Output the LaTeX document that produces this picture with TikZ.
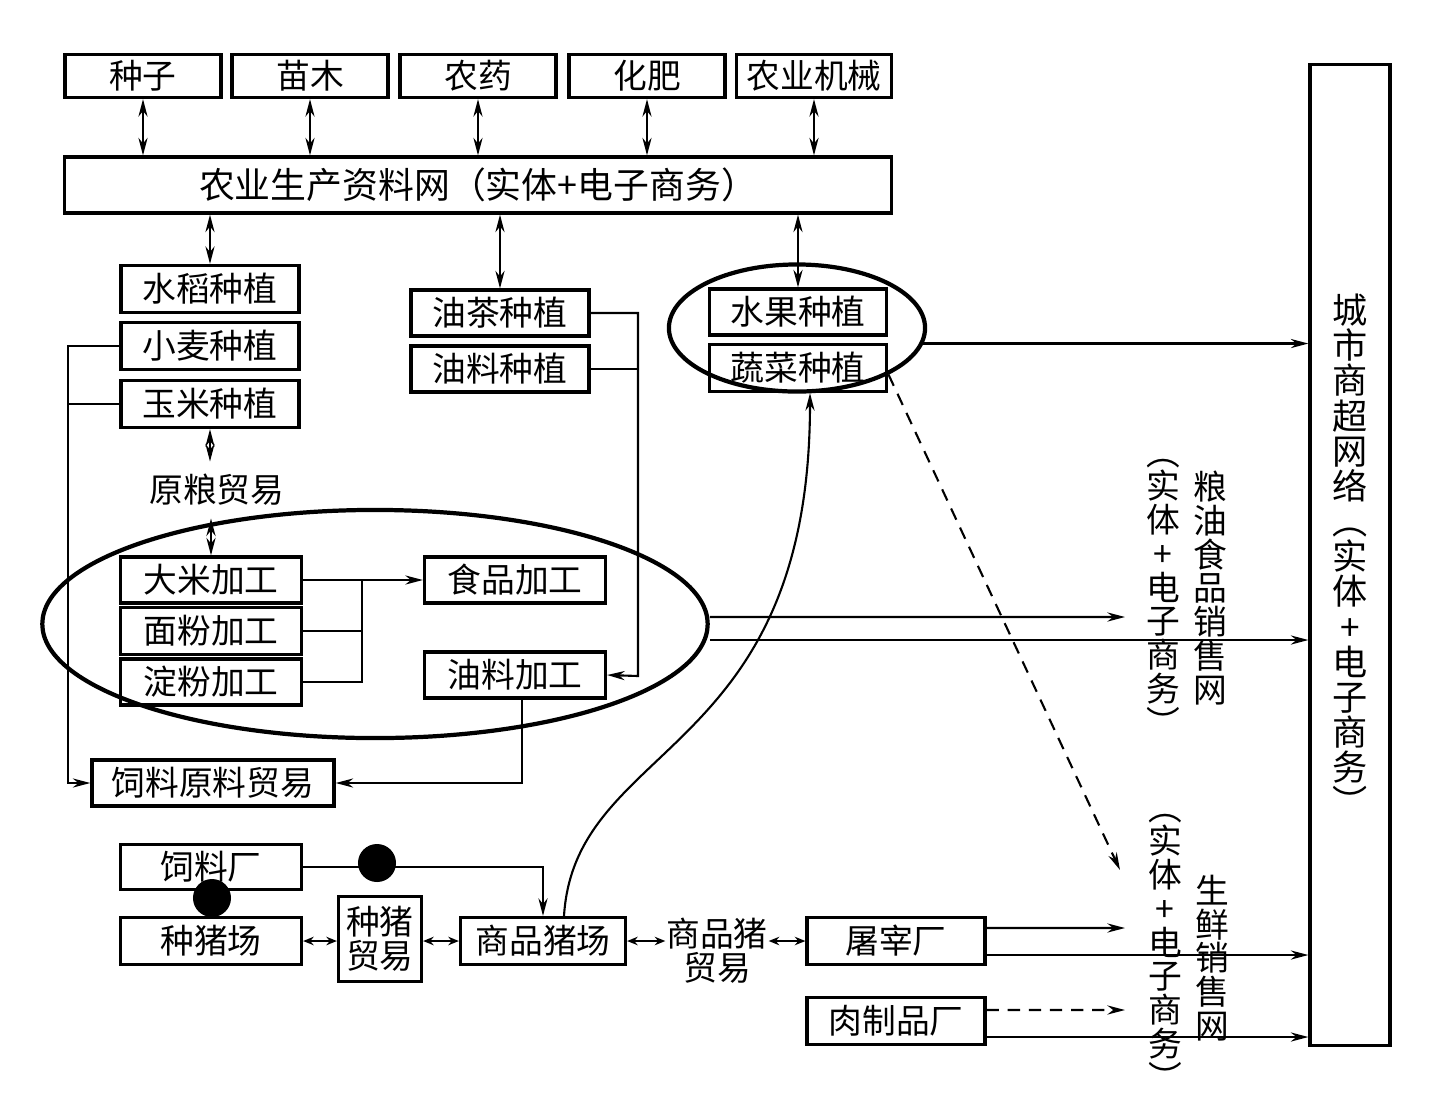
\documentclass[tikz,border=0pt]{standalone}
\usepackage{fontspec}
\setmainfont{Noto Sans CJK SC}
\usetikzlibrary{arrows.meta,shapes.geometric}

\begin{document}
\begin{tikzpicture}[x=0.01cm,y=-0.01cm,>={Stealth[length=5pt,width=2.6pt]},line width=0.6pt,
        font=\fontsize{9.6}{9.6}\selectfont,
        box node/.style={rectangle,draw,line width=0.9pt,inner sep=0pt,minimum height=0.46cm},
        oval node/.style={ellipse,draw,line width=1.2pt,inner sep=0pt},
        dot node/.style={circle,fill,inner sep=0pt,minimum size=0.38cm},
        vert node/.style={align=center,inner sep=0pt},
        short way/.style={{Stealth[length=3pt,width=2.4pt]}-{Stealth[length=3pt,width=2.4pt]}},
        dash way/.style={->,dash pattern=on 3.5pt off 2.5pt}]
        \useasboundingbox (0,0) rectangle (1429,1111);
        % ovals first, boxes on top
        \node[oval node,minimum width=6.65cm,minimum height=2.28cm] (process) at (375,624) {};
        \node[oval node,minimum width=2.56cm,minimum height=1.27cm] (farm) at (797,328) {};
        % supplies
        \node[box node,minimum width=1.56cm,minimum height=0.43cm] (seed) at (143,76) {种子};
        \node[box node,minimum width=1.56cm,minimum height=0.43cm] (sapling) at (310,76) {苗木};
        \node[box node,minimum width=1.56cm,minimum height=0.43cm] (pesticide) at (478,76) {农药};
        \node[box node,minimum width=1.56cm,minimum height=0.43cm] (fertilizer) at (647,76) {化肥};
        \node[box node,minimum width=1.55cm,minimum height=0.43cm] (machine) at (814,76) {农业机械};
        \node[box node,minimum width=8.27cm,minimum height=0.56cm,font=\fontsize{10.2}{10.2}\selectfont] (supply) at (478,185) {农业生产资料网（实体+电子商务）};
        % planting
        \node[box node,minimum width=1.78cm,minimum height=0.47cm] (rice) at (210,289) {水稻种植};
        \node[box node,minimum width=1.78cm,minimum height=0.47cm] (wheat) at (210,346) {小麦种植};
        \node[box node,minimum width=1.78cm,minimum height=0.47cm] (corn) at (210,404) {玉米种植};
        \node[box node,minimum width=1.78cm] (camellia) at (500,313) {油茶种植};
        \node[box node,minimum width=1.78cm] (oilcrop) at (500,369) {油料种植};
        \node[box node,minimum width=1.77cm] (fruit) at (798,312) {水果种植};
        \node[box node,minimum width=1.77cm,minimum height=0.47cm] (veg) at (798,368) {蔬菜种植};
        \node (graintrade) at (217,490) {原粮贸易};
        % processing
        \node[box node,minimum width=1.81cm] (ricemill) at (211,580) {大米加工};
        \node[box node,minimum width=1.81cm,minimum height=0.47cm] (flour) at (211,631) {面粉加工};
        \node[box node,minimum width=1.81cm] (starch) at (211,682) {淀粉加工};
        \node[box node,minimum width=1.81cm] (food) at (515,580) {食品加工};
        \node[box node,minimum width=1.81cm] (oilmill) at (515,675) {油料加工};
        \node[box node,minimum width=2.42cm] (feedtrade) at (213,783) {饲料原料贸易};
        % pigs
        \node[box node,minimum width=1.81cm,minimum height=0.45cm] (feedmill) at (211,867) {饲料厂};
        \node[box node,minimum width=1.81cm,minimum height=0.47cm] (breeder) at (211,941) {种猪场};
        \node[box node,minimum width=0.83cm,minimum height=0.85cm,align=center] (breedtrade) at (380,939) {种猪\\贸易};
        \node[box node,minimum width=1.65cm,minimum height=0.47cm] (hogfarm) at (543,941) {商品猪场};
        \node[vert node] (hogtrade) at (717,951) {商品猪\\贸易};
        \node[box node,minimum width=1.78cm,minimum height=0.47cm] (slaughter) at (896,941) {屠宰厂};
        \node[box node,minimum width=1.78cm,minimum height=0.47cm] (meat) at (896,1021) {肉制品厂};
        % sales networks
        \node[box node,minimum width=0.80cm,minimum height=9.81cm,align=center,font=\fontsize{10}{10}\selectfont] (market) at (1350,555)
        {城\\市\\商\\超\\网\\络\\︵\\实\\体\\+\\电\\子\\商\\务\\︶};
        \node[vert node] (grainnet) at (1210,588) {粮\\油\\食\\品\\销\\售\\网};
        \node[vert node] (grainnote) at (1163,597) {︵\\实\\体\\+\\电\\子\\商\\务\\︶};
        \node[vert node] (freshnet) at (1212,958) {生\\鲜\\销\\售\\网};
        \node[vert node] (freshnote) at (1165,952) {︵\\实\\体\\+\\电\\子\\商\\务\\︶};
        \coordinate (feedbus) at (68,783);
        \coordinate (oilbus) at (638,676);
        \coordinate (millbus) at (362,580);
        \coordinate (grainend) at (1125,617);
        \coordinate (freshend) at (1120,870);
        \coordinate (slaughterend) at (1125,928);
        \coordinate (meatend) at (1125,1010);
        % supply links
        \draw[<->] (seed.south) -- (seed.south |- supply.north);
        \draw[<->] (sapling.south) -- (sapling.south |- supply.north);
        \draw[<->] (pesticide.south) -- (pesticide.south |- supply.north);
        \draw[<->] (fertilizer.south) -- (fertilizer.south |- supply.north);
        \draw[<->] (machine.south) -- (machine.south |- supply.north);
        \draw[<->] (rice.north |- supply.south) -- (rice.north);
        \draw[<->] (camellia.north |- supply.south) -- (camellia.north);
        \draw[<->] (fruit.north |- supply.south) -- (fruit.north);
        % grain chain
        \draw[<->] (corn.south) -- (corn.south |- graintrade.north);
        \draw[<->] (ricemill.north |- graintrade.south) -- (ricemill.north);
        \draw[->] (wheat.west) -| (feedbus) -- (feedtrade.west);
        \draw (corn.west) -- (corn.west -| feedbus);
        \draw[->] (ricemill.east) -- (food.west);
        \draw (flour.east) -| (millbus);
        \draw (starch.east) -| (millbus);
        \draw[->] (camellia.east) -| (oilbus) -- (oilmill.east);
        \draw (oilcrop.east) -- (oilcrop.east -| oilbus);
        \draw[->] ([xshift=0.07cm]oilmill.south) |- (feedtrade.east);
        % to the markets
        \draw[->] (farm.-7) -- (farm.-7 -| market.west);
        \draw[->] ([yshift=0.07cm]process.east) -- (grainend);
        \draw[->] ([yshift=-0.16cm]process.east) -- ([yshift=-0.16cm]process.east -| market.west);
        \draw[dash way] (farm.-27) -- (freshend);
        \draw[->] ([yshift=0.13cm]slaughter.east) -- (slaughterend);
        \draw[->] ([yshift=-0.14cm]slaughter.east) -- ([yshift=-0.14cm]slaughter.east -| market.west);
        \draw[dash way] ([yshift=0.11cm]meat.east) -- (meatend);
        \draw[->] ([yshift=-0.16cm]meat.east) -- ([yshift=-0.16cm]meat.east -| market.west);
        % pig chain
        \draw[->] (feedmill.east) -| (hogfarm.north);
        \draw[short way] (breeder.east) -- (breeder.east -| breedtrade.west);
        \draw[short way] (breedtrade.east |- hogfarm.west) -- (hogfarm.west);
        \draw[short way] (hogfarm.east) -- (hogfarm.east -| hogtrade.west);
        \draw[short way] (hogtrade.east |- slaughter.west) -- (slaughter.west);
        \draw[->] ([xshift=0.21cm]hogfarm.north) .. controls (575,740) and (810,760) .. ([xshift=0.12cm]veg.south);
        \node[dot node] (dot1) at (377,863) {};
        \node[dot node] (dot2) at (212,898) {};
\end{tikzpicture}
\end{document}
